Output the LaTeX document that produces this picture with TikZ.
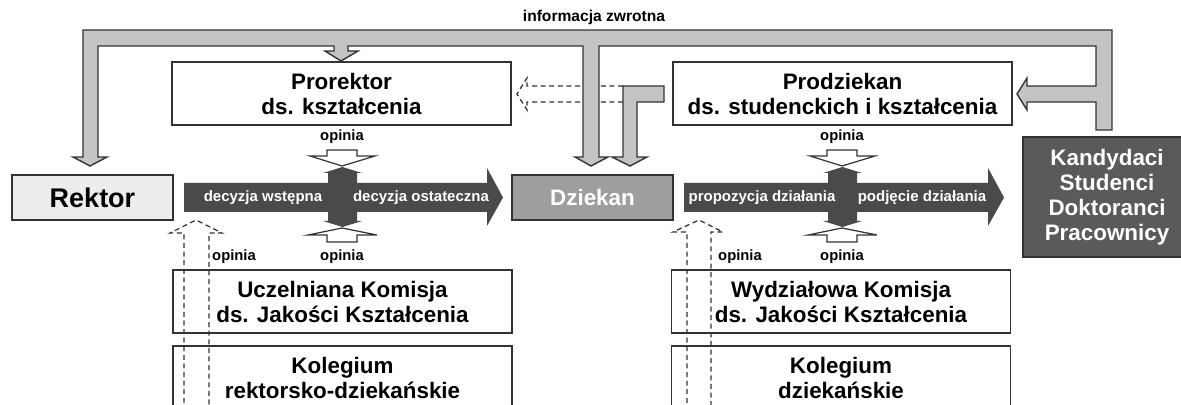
\documentclass[tikz,border=0pt]{standalone}
\usepackage{fontspec}
\setmainfont{Liberation Sans}

\definecolor{linegray}{HTML}{333333}
\definecolor{feedgray}{HTML}{C4C4C4}
\definecolor{flowgray}{HTML}{4A4A4A}
\definecolor{rektorgray}{HTML}{EDEDED}
\definecolor{dziekangray}{HTML}{9E9E9E}
\definecolor{groupgray}{HTML}{5A5A5A}

\tikzset{
  box/.style={draw=linegray, line width=0.9pt, inner sep=0pt, align=center,
    minimum width=169.5pt, minimum height=31.5pt,
    font=\bfseries\fontsize{11.2}{12.5}\selectfont},
  unit/.style={box, minimum width=80.5pt, minimum height=22.5pt},
  feedback/.style={fill=feedgray, draw=linegray, line width=0.7pt},
  flow/.style={fill=flowgray},
  opinion/.style={fill=white, draw=linegray, line width=0.6pt},
  advice/.style={draw=linegray, line width=0.65pt, dash pattern=on 2.5pt off 1.8pt},
  small/.style={font=\bfseries\fontsize{7.4}{8}\selectfont},
  flowtext/.style={text=white, font=\bfseries\fontsize{7.5}{9}\selectfont},
}

\begin{document}
\begin{tikzpicture}[x=0.5pt, y=-0.5pt]
    \useasboundingbox (0,0) rectangle (1181,405);

    % Boxes
    \node[box] (prorektor) at (341.5,93.5) {Prorektor\\ds. kształcenia};
    \node[box] (prodziekan) at (842.5,93.5) {Prodziekan\\ds. studenckich i kształcenia};
    \node[unit, fill=rektorgray, font=\bfseries\fontsize{13.5}{15}\selectfont] (rektor) at (92.5,197.5) {Rektor};
    \node[unit, fill=dziekangray, text=white] (dziekan) at (592.5,197.5) {Dziekan};
    \node[box, fill=groupgray, text=white, minimum width=84pt, minimum height=60pt] (grupy) at (1107,197)
        {Kandydaci\\Studenci\\Doktoranci\\Pracownicy};
    \node[box] (ukjk) at (342.5,301.5) {Uczelniana Komisja\\ds. Jakości Kształcenia};
    \node[box] (kolrd) at (342.5,377.5) {Kolegium\\rektorsko-dziekańskie};
    \node[box] (wkjk) at (841,301.5) {Wydziałowa Komisja\\ds. Jakości Kształcenia};
    \node[box] (kold) at (841,377.5) {Kolegium\\dziekańskie};

    % Dashed advice arrows
    \draw[advice] (623,86) -- (527,86) -- (527,78) -- (517,94) -- (527,110) -- (527,102) -- (623,102);
    \draw[advice] (184,420) -- (184,233) -- (170,233) -- (196,220) -- (222,233) -- (209,233) -- (209,420);
    \draw[advice] (687,420) -- (687,232) -- (673,232) -- (699,220) -- (723,232) -- (711,232) -- (711,420);

    % Feedback loop
    \draw[feedback] (90,166) -- (73,157) -- (83,157) -- (83,30) -- (1112,30) -- (1112,130)
        -- (1096,130) -- (1096,102) -- (1027,102) -- (1027,110) -- (1017,94) -- (1027,78)
        -- (1027,86) -- (1096,86) -- (1096,46) -- (599,46) -- (599,157) -- (608,157)
        -- (591,166) -- (575,157) -- (583,157) -- (583,46) -- (348,46) -- (348,51)
        -- (358,51) -- (341,61) -- (325,51) -- (334,51) -- (334,46) -- (98,46)
        -- (98,157) -- (107,157) -- cycle;
    \draw[feedback] (623,86) -- (664,86) -- (664,102) -- (637,102) -- (637,157) -- (647,157)
        -- (630,166) -- (612,157) -- (623,157) -- cycle;
    \node[small, font=\bfseries\fontsize{7.8}{9}\selectfont] (zwrot) at (594,17) {informacja zwrotna};

    % Decision flow (Rektor side)
    \fill[flow] (184,183) -- (487,183) -- (487,168) -- (503,197.5) -- (487,226) -- (487,212) -- (184,212) -- cycle;
    \fill[flow] (342.5,167) -- (362,173) -- (357,173) -- (357,221) -- (362,221) -- (342.5,227)
        -- (323,221) -- (328,221) -- (328,173) -- (323,173) -- cycle;
    \node[flowtext] (wstepna) at (263,197.5) {decyzja wstępna};
    \node[flowtext] (ostateczna) at (421,197.5) {decyzja ostateczna};

    % Decision flow (Dziekan side)
    \fill[flow] (684,183) -- (988,183) -- (988,168) -- (1004,197.5) -- (988,226) -- (988,212) -- (684,212) -- cycle;
    \fill[flow] (842.5,167) -- (862,173) -- (857,173) -- (857,221) -- (862,221) -- (842.5,227)
        -- (823,221) -- (828,221) -- (828,173) -- (823,173) -- cycle;
    \node[flowtext] (propozycja) at (762,197.5) {propozycja działania};
    \node[flowtext] (podjecie) at (922,197.5) {podjęcie działania};

    % Opinion arrows
    \draw[opinion] (327,150) -- (357,150) -- (357,156) -- (375,156) -- (342,166) -- (310,156) -- (327,156) -- cycle;
    \draw[opinion] (342,228) -- (377,235) -- (357,235) -- (357,242) -- (327,242) -- (327,235) -- (308,235) -- cycle;
    \draw[opinion] (827,150) -- (857,150) -- (857,156) -- (875,156) -- (842,166) -- (810,156) -- (827,156) -- cycle;
    \draw[opinion] (842,228) -- (877,235) -- (857,235) -- (857,242) -- (827,242) -- (827,235) -- (808,235) -- cycle;

    % Opinion labels
    \node[small] (op1) at (342,137) {opinia};
    \node[small] (op2) at (342,257) {opinia};
    \node[small] (op3) at (234,257) {opinia};
    \node[small] (op4) at (842,137) {opinia};
    \node[small] (op5) at (842,257) {opinia};
    \node[small] (op6) at (740,257) {opinia};

\end{tikzpicture}
\end{document}
